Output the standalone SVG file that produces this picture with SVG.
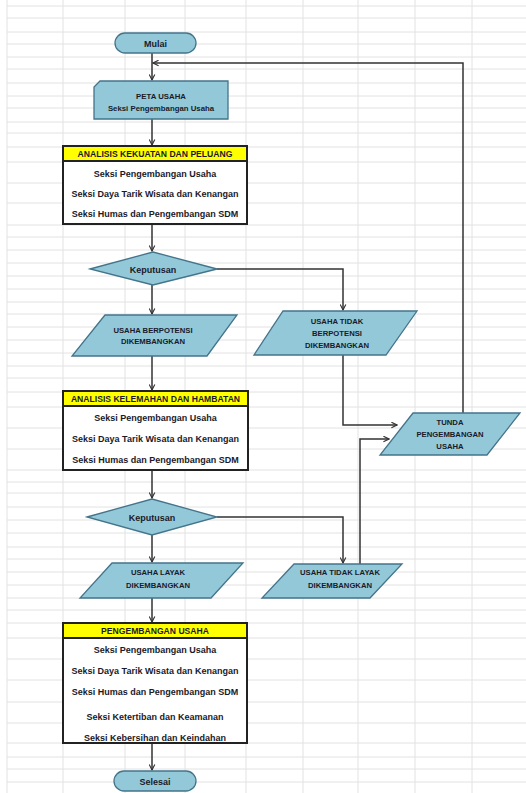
<svg xmlns="http://www.w3.org/2000/svg" width="526" height="793" viewBox="0 0 526 793">
<style>
.grid line{stroke:#e2e2e2;stroke-width:1}
.sh{fill:#93c8d9;stroke:#44748a;stroke-width:1.3}
.box{fill:#fff;stroke:#222;stroke-width:2}
.hdr{fill:#ffff00;stroke:#222;stroke-width:2}
.t{font-family:"Liberation Sans",Arial,sans-serif;font-weight:bold;fill:#1a1a2a;text-anchor:middle}
.s9{font-size:9px}
.sh8{font-size:8.6px}
.s78{font-size:7.8px}
.s77{font-size:7.7px}
.c path{fill:none;stroke:#333;stroke-width:1.5}
</style>
<defs>
<marker id="ah" viewBox="0 0 10 10" refX="9" refY="5" markerWidth="7" markerHeight="7" orient="auto" markerUnits="userSpaceOnUse">
<path d="M1,1 L9,5 L1,9" fill="none" stroke="#333" stroke-width="1.6"/>
</marker>
</defs>
<rect width="526" height="793" fill="#fff"/>
<g class="grid">
<line x1="7" y1="0" x2="7" y2="793"/><line x1="63" y1="0" x2="63" y2="793"/><line x1="125" y1="0" x2="125" y2="793"/><line x1="185" y1="0" x2="185" y2="793"/><line x1="246" y1="0" x2="246" y2="793"/><line x1="303" y1="0" x2="303" y2="793"/><line x1="358" y1="0" x2="358" y2="793"/><line x1="415" y1="0" x2="415" y2="793"/><line x1="472" y1="0" x2="472" y2="793"/>
<line x1="7" y1="6" x2="526" y2="6"/><line x1="7" y1="18" x2="526" y2="18"/><line x1="7" y1="32" x2="526" y2="32"/><line x1="7" y1="44" x2="526" y2="44"/><line x1="7" y1="57" x2="526" y2="57"/><line x1="7" y1="69" x2="526" y2="69"/><line x1="7" y1="83" x2="526" y2="83"/><line x1="7" y1="96" x2="526" y2="96"/><line x1="7" y1="108" x2="526" y2="108"/><line x1="7" y1="122" x2="526" y2="122"/><line x1="7" y1="133" x2="526" y2="133"/><line x1="7" y1="147" x2="526" y2="147"/><line x1="7" y1="162" x2="526" y2="162"/><line x1="7" y1="183" x2="526" y2="183"/><line x1="7" y1="203" x2="526" y2="203"/><line x1="7" y1="225" x2="526" y2="225"/><line x1="7" y1="237" x2="526" y2="237"/><line x1="7" y1="250" x2="526" y2="250"/><line x1="7" y1="263" x2="526" y2="263"/><line x1="7" y1="276" x2="526" y2="276"/><line x1="7" y1="289" x2="526" y2="289"/><line x1="7" y1="302" x2="526" y2="302"/><line x1="7" y1="314" x2="526" y2="314"/><line x1="7" y1="327" x2="526" y2="327"/><line x1="7" y1="340" x2="526" y2="340"/><line x1="7" y1="353" x2="526" y2="353"/><line x1="7" y1="366" x2="526" y2="366"/><line x1="7" y1="378" x2="526" y2="378"/><line x1="7" y1="392" x2="526" y2="392"/><line x1="7" y1="407" x2="526" y2="407"/><line x1="7" y1="428" x2="526" y2="428"/><line x1="7" y1="449" x2="526" y2="449"/><line x1="7" y1="470" x2="526" y2="470"/><line x1="7" y1="482" x2="526" y2="482"/><line x1="7" y1="493" x2="526" y2="493"/><line x1="7" y1="507" x2="526" y2="507"/><line x1="7" y1="520" x2="526" y2="520"/><line x1="7" y1="533" x2="526" y2="533"/><line x1="7" y1="547" x2="526" y2="547"/><line x1="7" y1="559" x2="526" y2="559"/><line x1="7" y1="572" x2="526" y2="572"/><line x1="7" y1="585" x2="526" y2="585"/><line x1="7" y1="598" x2="526" y2="598"/><line x1="7" y1="610" x2="526" y2="610"/><line x1="7" y1="623" x2="526" y2="623"/><line x1="7" y1="638" x2="526" y2="638"/><line x1="7" y1="659" x2="526" y2="659"/><line x1="7" y1="680" x2="526" y2="680"/><line x1="7" y1="702" x2="526" y2="702"/><line x1="7" y1="723" x2="526" y2="723"/><line x1="7" y1="743" x2="526" y2="743"/><line x1="7" y1="757" x2="526" y2="757"/><line x1="7" y1="769" x2="526" y2="769"/><line x1="7" y1="782" x2="526" y2="782"/>
</g>
<g class="c">
<path d="M152,53 V80" marker-end="url(#ah)"/>
<path d="M463,413 V63 H153" marker-end="url(#ah)"/>
<path d="M152,119 V145" marker-end="url(#ah)"/>
<path d="M152,224 V251" marker-end="url(#ah)"/>
<path d="M152,285 V314" marker-end="url(#ah)"/>
<path d="M217,269 H343 V310" marker-end="url(#ah)"/>
<path d="M152,356 V390" marker-end="url(#ah)"/>
<path d="M343,355 V425 H397" marker-end="url(#ah)"/>
<path d="M360,564 V439 H389" marker-end="url(#ah)"/>
<path d="M152,470 V498" marker-end="url(#ah)"/>
<path d="M152,535 V562" marker-end="url(#ah)"/>
<path d="M217,517 H343 V563" marker-end="url(#ah)"/>
<path d="M152,598 V622" marker-end="url(#ah)"/>
<path d="M152,743 V770" marker-end="url(#ah)"/>
</g>
<g id="mulai">
<rect class="sh" x="115" y="33" width="81" height="20" rx="10" stroke-width="1.6"/>
<text class="t s9" x="155.5" y="46.5">Mulai</text>
</g>
<g id="peta">
<path class="sh" d="M100,81 H228 V119 H94 V87 Z"/>
<text class="t s78" x="161" y="99">PETA USAHA</text>
<text class="t s78" x="161" y="111">Seksi Pengembangan Usaha</text>
</g>
<g id="analisis1">
<rect class="box" x="63" y="146" width="184" height="78"/>
<rect class="hdr" x="63" y="146" width="184" height="15"/>
<text class="t sh8" x="155" y="157">ANALISIS KEKUATAN DAN PELUANG</text>
<text class="t s9" x="155" y="176.5">Seksi Pengembangan Usaha</text>
<text class="t s9" x="155" y="196.5">Seksi Daya Tarik Wisata dan Kenangan</text>
<text class="t s9" x="155" y="216.5">Seksi Humas dan Pengembangan SDM</text>
</g>
<g id="keputusan1">
<path class="sh" d="M90,269 L153,252 L217,269 L153,285 Z"/>
<text class="t s9" x="153" y="272.5">Keputusan</text>
</g>
<g id="berpotensi">
<path class="sh" d="M105,315 H237 L207,356 H72 Z"/>
<text class="t s77" x="153" y="333">USAHA BERPOTENSI</text>
<text class="t s77" x="153" y="344">DIKEMBANGKAN</text>
</g>
<g id="tidakberpotensi">
<path class="sh" d="M283,311 H417 L386,355 H254 Z"/>
<text class="t s77" x="337" y="324">USAHA TIDAK</text>
<text class="t s77" x="337" y="336">BERPOTENSI</text>
<text class="t s77" x="337" y="348">DIKEMBANGKAN</text>
</g>
<g id="tunda">
<path class="sh" d="M413,413 H520 L487,455 H380 Z"/>
<text class="t s77" x="450" y="425">TUNDA</text>
<text class="t s77" x="450" y="437">PENGEMBANGAN</text>
<text class="t s77" x="450" y="449">USAHA</text>
</g>
<g id="analisis2">
<rect class="box" x="63" y="391" width="185" height="79"/>
<rect class="hdr" x="63" y="391" width="185" height="15"/>
<text class="t sh8" x="155.5" y="402">ANALISIS KELEMAHAN DAN HAMBATAN</text>
<text class="t s9" x="155.5" y="420.5">Seksi Pengembangan Usaha</text>
<text class="t s9" x="155.5" y="441.5">Seksi Daya Tarik Wisata dan Kenangan</text>
<text class="t s9" x="155.5" y="462.5">Seksi Humas dan Pengembangan SDM</text>
</g>
<g id="keputusan2">
<path class="sh" d="M87,517 L152,499 L217,517 L152,535 Z"/>
<text class="t s9" x="152" y="520.5">Keputusan</text>
</g>
<g id="layak">
<path class="sh" d="M112,563 H243 L211,598 H80 Z"/>
<text class="t s77" x="158" y="575">USAHA LAYAK</text>
<text class="t s77" x="158" y="588">DIKEMBANGKAN</text>
</g>
<g id="tidaklayak">
<path class="sh" d="M294,564 H402 L370,598 H262 Z"/>
<text class="t s77" x="340" y="575">USAHA TIDAK LAYAK</text>
<text class="t s77" x="340" y="588">DIKEMBANGKAN</text>
</g>
<g id="pengembangan">
<rect class="box" x="63" y="623" width="184" height="120"/>
<rect class="hdr" x="63" y="623" width="184" height="15"/>
<text class="t sh8" x="155" y="634">PENGEMBANGAN USAHA</text>
<text class="t s9" x="155" y="652.5">Seksi Pengembangan Usaha</text>
<text class="t s9" x="155" y="673.5">Seksi Daya Tarik Wisata dan Kenangan</text>
<text class="t s9" x="155" y="694.5">Seksi Humas dan Pengembangan SDM</text>
<text class="t s9" x="155" y="719.5">Seksi Ketertiban dan Keamanan</text>
<text class="t s9" x="155" y="740.5">Seksi Kebersihan dan Keindahan</text>
</g>
<g id="selesai">
<rect class="sh" x="114" y="771" width="82" height="20" rx="10" stroke-width="1.6"/>
<text class="t s9" x="155" y="784.5">Selesai</text>
</g>
</svg>
